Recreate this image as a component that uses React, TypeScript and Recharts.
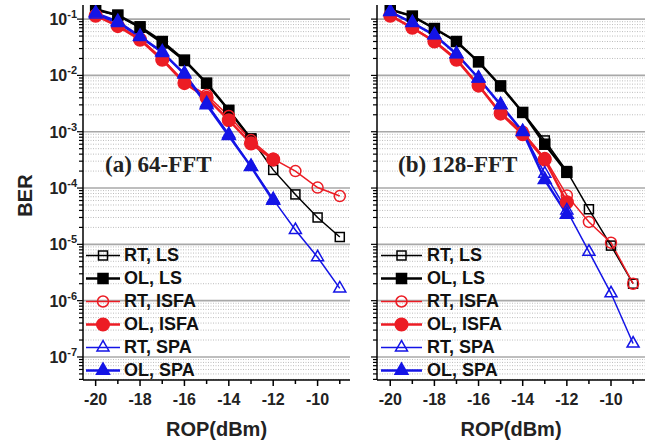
import { LineChart, Line, XAxis, YAxis, ReferenceLine, Legend } from 'recharts';

// ROP (dBm) values measured
const ROP = [-20, -19, -18, -17, -16, -15, -14, -13, -12, -11, -10, -9];
const X_LABELS = [-20, -18, -16, -14, -12, -10];
const DECADES = [1e-7, 1e-6, 1e-5, 1e-4, 1e-3, 1e-2, 1e-1];
const MINOR_STEPS = [2, 3, 4, 5, 6, 7, 8, 9];

// (a) 64-FFT
const a_rtLs = [0.145, 0.115, 0.07, 0.037, 0.018, 0.0072, 0.0024, 7.6e-4, 2.1e-4, 7.7e-5, 3.0e-5, 1.35e-5];
const a_olLs = [0.15, 0.118, 0.073, 0.04, 0.0187, 0.0073, 0.0024, 7.4e-4];
const a_rtIsfa = [0.118, 0.078, 0.045, 0.02, 0.0077, 0.0045, 0.0019, 7.1e-4, 3.3e-4, 2.0e-4, 1.02e-4, 7.2e-5];
const a_olIsfa = [0.115, 0.075, 0.043, 0.019, 0.0073, 0.004, 0.0016, 6.2e-4, 3.2e-4];
const a_rtSpa = [0.12, 0.085, 0.048, 0.025, 0.011, 0.0032, 9e-4, 2.4e-4, 6.3e-5, 1.8e-5, 5.9e-6, 1.65e-6];
const a_olSpa = [0.128, 0.09, 0.049, 0.026, 0.0105, 0.003, 8.5e-4, 2.4e-4, 6.0e-5];

// (b) 128-FFT
const b_rtLs = [0.145, 0.113, 0.068, 0.04, 0.0174, 0.0065, 0.0022, 7e-4, 2.0e-4, 4.2e-5, 9.5e-6, 2.0e-6];
const b_olLs = [0.148, 0.113, 0.068, 0.04, 0.0174, 0.0065, 0.0022, 6e-4, 1.9e-4];
const b_rtIsfa = [0.118, 0.071, 0.041, 0.02, 0.0068, 0.0022, 1.0e-3, 3.4e-4, 7.4e-5, 2.5e-5, 1.07e-5, 2.0e-6];
const b_olIsfa = [0.115, 0.07, 0.04, 0.019, 0.0066, 0.0021, 9e-4, 3.2e-4, 5.6e-5];
const b_rtSpa = [0.135, 0.086, 0.052, 0.024, 0.0089, 0.003, 1e-3, 1.8e-4, 4e-5, 7.4e-6, 1.35e-6, 1.73e-7];
const b_olSpa = [0.135, 0.086, 0.052, 0.024, 0.0089, 0.003, 1e-3, 1.4e-4, 3.4e-5];

const BLACK = '#000000';
const RED = '#ec1c24';
const BLUE = '#1414e6';

const SERIES = [
  { key: 'rtLs', name: 'RT, LS', color: BLACK, shape: 'square', filled: false, width: 1.5 },
  { key: 'olLs', name: 'OL, LS', color: BLACK, shape: 'square', filled: true, width: 2.5 },
  { key: 'rtIsfa', name: 'RT, ISFA', color: RED, shape: 'circle', filled: false, width: 1.5 },
  { key: 'olIsfa', name: 'OL, ISFA', color: RED, shape: 'circle', filled: true, width: 2.5 },
  { key: 'rtSpa', name: 'RT, SPA', color: BLUE, shape: 'triangle', filled: false, width: 1.5 },
  { key: 'olSpa', name: 'OL, SPA', color: BLUE, shape: 'triangle', filled: true, width: 2.5 },
];

const buildRows = (cols: Record<string, number[]>) =>
  ROP.map((x, i) => {
    const row: any = { rop: x };
    Object.keys(cols).forEach((k) => {
      row[k] = cols[k][i];
    });
    return row;
  });

const dataA = buildRows({ rtLs: a_rtLs, olLs: a_olLs, rtIsfa: a_rtIsfa, olIsfa: a_olIsfa, rtSpa: a_rtSpa, olSpa: a_olSpa });
const dataB = buildRows({ rtLs: b_rtLs, olLs: b_olLs, rtIsfa: b_rtIsfa, olIsfa: b_olIsfa, rtSpa: b_rtSpa, olSpa: b_olSpa });

const MINORS: number[] = [];
[1e-8, ...DECADES].forEach((d) => MINOR_STEPS.forEach((m) => {
  const v = m * d;
  if (v > 3.9e-8 && v < 0.178) MINORS.push(v);
}));
const Y_TICKS = [...DECADES, ...MINORS].sort((p, q) => p - q);

const isDecade = (v: number) => Math.abs(Math.log10(v) - Math.round(Math.log10(v))) < 1e-6;

const FONT = '"Liberation Sans", Arial, sans-serif';

function Marker({ cx, cy, shape, filled, color }: any) {
  if (cx == null || cy == null || isNaN(cy)) return <g />;
  const fill = filled ? color : 'none';
  if (shape === 'square') {
    const s = filled ? 10 : 9;
    return <rect x={cx - s / 2} y={cy - s / 2} width={s} height={s} fill={fill} stroke={color} strokeWidth={1.5} />;
  }
  if (shape === 'circle') {
    return <circle cx={cx} cy={cy} r={filled ? 6.3 : 5.5} fill={fill} stroke={color} strokeWidth={1.5} />;
  }
  const s = filled ? 13 : 12;
  const h = s * 0.87;
  const pts = `${cx},${cy - (h * 2) / 3} ${cx - s / 2},${cy + h / 3} ${cx + s / 2},${cy + h / 3}`;
  return <polygon points={pts} fill={fill} stroke={color} strokeWidth={1.5} strokeLinejoin="miter" />;
}

const XTick = ({ x, y, payload }: any) => {
  const v = payload.value;
  const major = X_LABELS.includes(v);
  return (
    <g>
      <line x1={x} x2={x} y1={y} y2={y + (major ? 6 : 4)} stroke="#000" strokeWidth={1.5} />
      {major && (
        <text x={x} y={y + 25} textAnchor="middle" fontSize={16} fontWeight={700} fill="#222" fontFamily={FONT}>
          {v}
        </text>
      )}
    </g>
  );
};

const makeYTick = (showLabels: boolean) => ({ x, y, payload }: any) => {
  const v = payload.value;
  const major = isDecade(v);
  const exp = Math.round(Math.log10(v));
  return (
    <g>
      <line x1={x} x2={x - (major ? 6 : 4)} y1={y} y2={y} stroke="#000" strokeWidth={1.2} />
      {major && showLabels && (
        <text x={x - 6} y={y} dy={6} textAnchor="end" fontSize={16} fontWeight={700} fill="#222" fontFamily={FONT}>
          10
          <tspan dy={-7} fontSize={11}>{exp}</tspan>
        </text>
      )}
    </g>
  );
};

const LegendBox = ({ lineLen, gap }: { lineLen: number; gap: number }) => (
  <div style={{ fontFamily: FONT }}>
    {SERIES.map((s) => (
      <div key={s.key} style={{ display: 'flex', alignItems: 'center', height: 23 }}>
        <svg width={lineLen} height={23} style={{ overflow: 'visible' }}>
          <line x1={0} x2={lineLen} y1={11.5} y2={11.5} stroke={s.color} strokeWidth={s.width} />
          <Marker cx={lineLen / 2} cy={11.5} shape={s.shape} filled={s.filled} color={s.color} />
        </svg>
        <span style={{ marginLeft: gap, fontSize: 18, fontWeight: 700, color: '#111', lineHeight: '23px', whiteSpace: 'nowrap' }}>
          {s.name}
        </span>
      </div>
    ))}
  </div>
);

function Panel({ data, width, yWidth, xDomain, showYLabels, legendLeft, lineLen, gap, yTitle }: any) {
  return (
    <LineChart width={width} height={443} data={data} margin={{ top: 5, right: width === 352 ? 2 : 5, bottom: 0, left: 0 }}>
      {MINORS.map((v) => (
        <ReferenceLine key={'m' + v} y={v} stroke="#bdbdbd" strokeDasharray="1 1.5" strokeWidth={1} />
      ))}
      {DECADES.map((v) => (
        <ReferenceLine key={'d' + v} y={v} stroke="#a8a8a8" strokeWidth={1.6} />
      ))}
      <XAxis
        type="number"
        dataKey="rop"
        domain={xDomain}
        ticks={ROP}
        interval={0}
        allowDataOverflow
        height={63}
        tickSize={0}
        tickMargin={0}
        tickLine={false}
        tick={XTick}
        axisLine={{ stroke: '#000', strokeWidth: 1.5 }}
        label={{
          content: ({ viewBox }: any) => (
            <text x={viewBox.x + viewBox.width / 2} y={viewBox.y + 56} textAnchor="middle" fontSize={20} fontWeight={700} fill="#222" fontFamily={FONT}>
              ROP(dBm)
            </text>
          ),
        }}
      />
      <YAxis
        type="number"
        scale="log"
        domain={[3.9e-8, 0.178]}
        ticks={Y_TICKS}
        interval={0}
        allowDataOverflow
        width={yWidth}
        tickSize={0}
        tickMargin={0}
        tickLine={false}
        tick={makeYTick(showYLabels)}
        axisLine={{ stroke: '#000', strokeWidth: 1.5 }}
        label={
          yTitle
            ? {
                content: ({ viewBox }: any) => {
                  const cy = viewBox.y + viewBox.height / 2 + 3;
                  return (
                    <text x={32} y={cy} transform={`rotate(-90, 32, ${cy})`} textAnchor="middle" fontSize={20} fontWeight={700} fill="#222" fontFamily={FONT}>
                      {yTitle}
                    </text>
                  );
                },
              }
            : undefined
        }
      />
      {SERIES.map((s) => (
        <Line
          key={s.key}
          dataKey={s.key}
          name={s.name}
          type="linear"
          stroke={s.color}
          strokeWidth={s.width}
          isAnimationActive={false}
          activeDot={false}
          dot={(p: any) => <Marker key={`${s.key}-${p.index}`} cx={p.cx} cy={p.cy} shape={s.shape} filled={s.filled} color={s.color} />}
        />
      ))}
      <Legend
        layout="vertical"
        align="center"
        verticalAlign="middle"
        wrapperStyle={{ left: legendLeft, top: 243.5, width: 'auto', height: 'auto' }}
        content={() => <LegendBox lineLen={lineLen} gap={gap} />}
      />
    </LineChart>
  );
}

export default function App() {
  return (
    <div style={{ position: 'absolute', left: 0, top: 0, width: 650, height: 443, background: '#fff', fontFamily: FONT }}>
      <div style={{ position: 'absolute', left: 0, top: 0 }}>
        <Panel data={dataA} width={352} yWidth={83} xDomain={[-20.57, -8.54]} showYLabels legendLeft={86} lineLen={34} gap={4} yTitle="BER" />
      </div>
      <div style={{ position: 'absolute', left: 350, top: 0 }}>
        <Panel data={dataB} width={300} yWidth={27} xDomain={[-20.6, -8.46]} showYLabels={false} legendLeft={31} lineLen={41} gap={5} />
      </div>
      <div style={{ position: 'absolute', left: 105, top: 152.5, fontFamily: '"Liberation Serif", "Times New Roman", serif', fontWeight: 700, fontSize: 23, lineHeight: 1, color: '#222', whiteSpace: 'nowrap' }}>
        (a) 64-FFT
      </div>
      <div style={{ position: 'absolute', left: 398, top: 152.5, fontFamily: '"Liberation Serif", "Times New Roman", serif', fontWeight: 700, fontSize: 23, lineHeight: 1, color: '#222', whiteSpace: 'nowrap' }}>
        (b) 128-FFT
      </div>
    </div>
  );
}
